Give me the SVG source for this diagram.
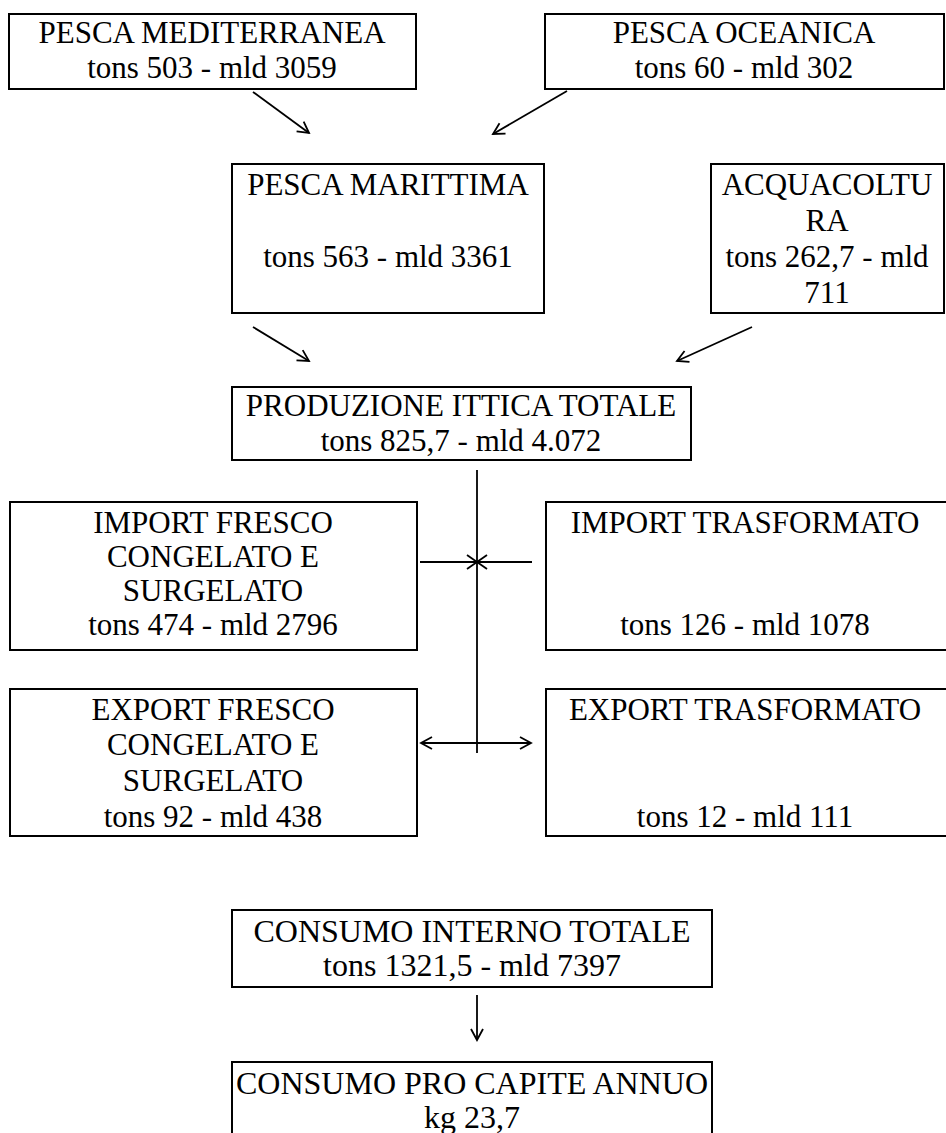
<svg xmlns="http://www.w3.org/2000/svg" width="946" height="1133" viewBox="0 0 946 1133">
<style>
  .box { fill: #ffffff; stroke: #000000; stroke-width: 2; }
  .t { font-family: "Liberation Serif", "Times New Roman", serif; font-size: 31px; fill: #000000; text-anchor: middle; }
  .big { font-size: 32px; }
  .c { stroke: #000000; stroke-width: 1.8; fill: none; }
</style>
<defs>
  <marker id="arr" markerUnits="userSpaceOnUse" markerWidth="16" markerHeight="16" refX="12" refY="7" orient="auto-start-reverse">
    <path d="M1,1 L12,7 L1,13" fill="none" stroke="#000000" stroke-width="1.8"/>
  </marker>
</defs>
<rect x="0" y="0" width="946" height="1133" fill="#ffffff"/>

<g id="pesca-mediterranea">
  <rect class="box" x="9" y="14" width="407" height="75"/>
  <text class="t" x="212" y="43">PESCA MEDITERRANEA</text>
  <text class="t" x="212" y="78">tons 503 - mld 3059</text>
</g>
<g id="pesca-oceanica">
  <rect class="box" x="545" y="14" width="399" height="75"/>
  <text class="t" x="744" y="43">PESCA OCEANICA</text>
  <text class="t" x="744" y="78">tons 60 - mld 302</text>
</g>
<g id="pesca-marittima">
  <rect class="box" x="232" y="164" width="312" height="149"/>
  <text class="t" x="388" y="195">PESCA MARITTIMA</text>
  <text class="t" x="388" y="267">tons 563 - mld 3361</text>
</g>
<g id="acquacoltura">
  <rect class="box" x="711" y="164" width="233" height="149"/>
  <text class="t" x="827" y="195">ACQUACOLTU</text>
  <text class="t" x="827" y="231">RA</text>
  <text class="t" x="827" y="267">tons 262,7 - mld</text>
  <text class="t" x="827" y="303">711</text>
</g>
<g id="produzione-ittica-totale">
  <rect class="box" x="232" y="387" width="459" height="73"/>
  <text class="t" x="461" y="416">PRODUZIONE ITTICA TOTALE</text>
  <text class="t" x="461" y="451">tons 825,7 - mld 4.072</text>
</g>
<g id="import-fresco">
  <rect class="box" x="10" y="502" width="407" height="148"/>
  <text class="t" x="213" y="533">IMPORT FRESCO</text>
  <text class="t" x="213" y="567">CONGELATO E</text>
  <text class="t" x="213" y="601">SURGELATO</text>
  <text class="t" x="213" y="635">tons 474 - mld 2796</text>
</g>
<g id="import-trasformato">
  <rect class="box" x="546" y="502" width="410" height="148"/>
  <text class="t" x="745" y="533">IMPORT TRASFORMATO</text>
  <text class="t" x="745" y="635">tons 126 - mld 1078</text>
</g>
<g id="export-fresco">
  <rect class="box" x="10" y="689" width="407" height="147"/>
  <text class="t" x="213" y="720">EXPORT FRESCO</text>
  <text class="t" x="213" y="755">CONGELATO E</text>
  <text class="t" x="213" y="791">SURGELATO</text>
  <text class="t" x="213" y="827">tons 92 - mld 438</text>
</g>
<g id="export-trasformato">
  <rect class="box" x="546" y="689" width="410" height="147"/>
  <text class="t" x="745" y="720">EXPORT TRASFORMATO</text>
  <text class="t" x="745" y="827">tons 12 - mld 111</text>
</g>
<g id="consumo-interno-totale">
  <rect class="box" x="232" y="910" width="480" height="77"/>
  <text class="t big" x="472" y="942">CONSUMO INTERNO TOTALE</text>
  <text class="t big" x="472" y="976">tons 1321,5 - mld 7397</text>
</g>
<g id="consumo-pro-capite">
  <rect class="box" x="232" y="1062" width="480" height="80"/>
  <text class="t big" x="472" y="1094">CONSUMO PRO CAPITE ANNUO</text>
  <text class="t big" x="472" y="1128">kg 23,7</text>
</g>

<g id="connectors">
  <line class="c" x1="253" y1="92" x2="309" y2="133" marker-end="url(#arr)"/>
  <line class="c" x1="567" y1="91" x2="493" y2="134" marker-end="url(#arr)"/>
  <line class="c" x1="253" y1="327" x2="309" y2="361" marker-end="url(#arr)"/>
  <line class="c" x1="752" y1="327" x2="677" y2="361" marker-end="url(#arr)"/>
  <line class="c" x1="477" y1="470" x2="477" y2="753"/>
  <line class="c" x1="420" y1="562" x2="532" y2="562"/>
  <line class="c" x1="467" y1="555" x2="487" y2="569"/>
  <line class="c" x1="467" y1="569" x2="487" y2="555"/>
  <line class="c" x1="421" y1="743" x2="531" y2="743" marker-start="url(#arr)" marker-end="url(#arr)"/>
  <line class="c" x1="477" y1="995" x2="477" y2="1040" marker-end="url(#arr)"/>
</g>
</svg>
